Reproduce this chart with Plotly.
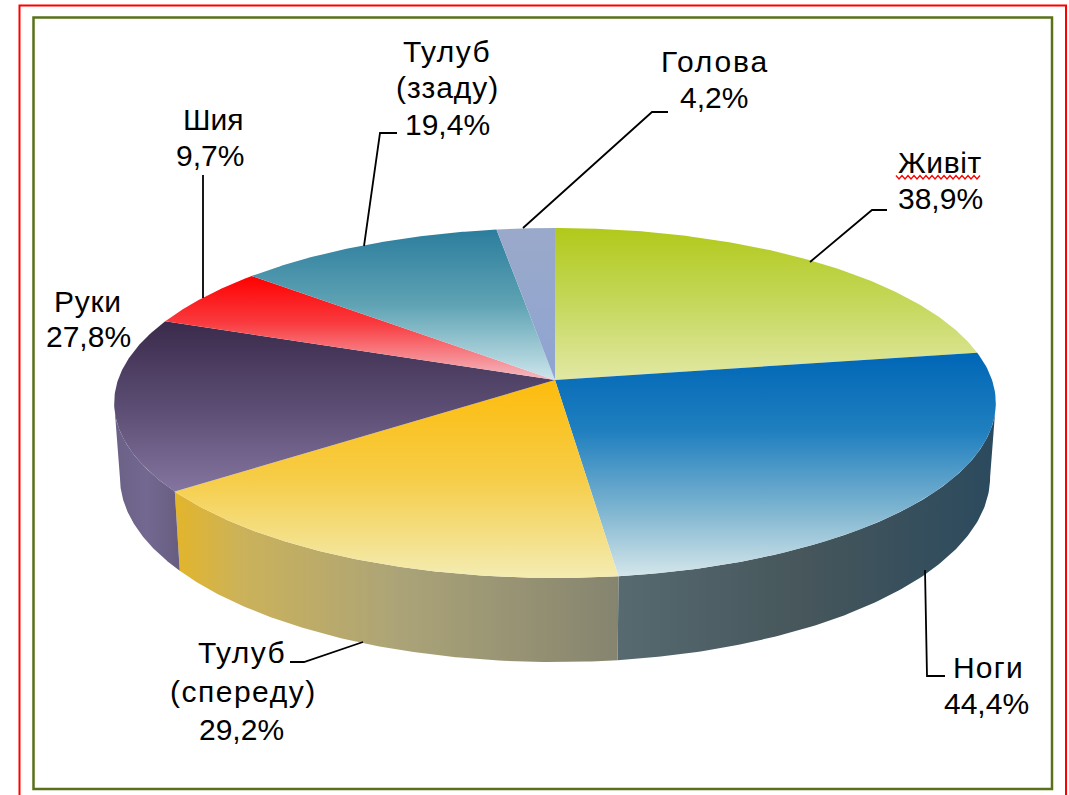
import numpy as np
import plotly.graph_objects as go

# Data, clockwise from 12 o'clock
names = [["Живіт"], ["Ноги"], ["Тулуб", "(спереду)"], ["Руки"], ["Шия"], ["Тулуб", "(ззаду)"], ["Голова"]]
values = [38.9, 44.4, 29.2, 27.8, 9.7, 19.4, 4.2]

top_colors = [
    [[0, "#b1c91a"], [0.5, "#c5d85c"], [1, "#e2e8a4"]],
    [[0, "#0066b6"], [0.35, "#1f7fbf"], [0.7, "#7db4d0"], [1, "#d4e6ea"]],
    [[0, "#fdbc0c"], [0.5, "#f6cd48"], [1, "#f3ecb2"]],
    [[0, "#3a2b4c"], [0.5, "#5b4c73"], [1, "#83759f"]],
    [[0, "#ff0000"], [0.45, "#f93a3e"], [1, "#f4bcc4"]],
    [[0, "#2b7d9d"], [0.5, "#5fa3b4"], [1, "#cde6ec"]],
    [[0, "#9aa9ca"], [1, "#8fa4d2"]],
]
wall_colors = {
    1: [[0, "#566a70"], [0.5, "#46565b"], [1, "#2b4a5e"]],
    2: [[0, "#e3b52a"], [0.15, "#cbb25a"], [0.5, "#aca478"], [1, "#85846f"]],
    3: [[0, "#6b6186"], [0.5, "#736890"], [1, "#675d80"]],
}

# label line centres: (x, y) per text line, the value last
label_pos = [
    [(940, 162), (940, 198)],
    [(988, 667), (986, 703)],
    [(242, 652), (243, 691), (241, 729)],
    [(88, 301), (88, 336)],
    [(213, 119), (210, 155)],
    [(447, 51), (447, 87), (447, 124)],
    [(715, 61), (714, 97)],
]
# extra letter spacing of each name line, px
name_spacing = [[0.6], [1.2], [1.4, 1.5], [0.7], [0], [1.4, 1.0], [1.8]]
leaders = [
    [(810, 262), (872, 210), (887, 210)],
    [(925, 570), (927, 676), (945, 676)],
    [(363, 642), (304, 662), (290, 662)],
    None,
    [(203, 298), (203, 175)],
    [(364, 246), (380, 133), (397, 133)],
    [(523, 228), (652, 112), (668, 112)],
]

# projection of the disc
CX, CY, A, B, K, H, SHRINK = 555, 380, 437, 172, 0.1314, 73, 0.987


def project(deg, drop=0.0):
    t = np.radians(deg)
    u, v = np.sin(t), np.cos(t)
    d = 1 + K * v
    s = SHRINK if drop else 1.0
    return CX + s * A * u / d, CY - B * v / d + drop / d


def flipped(stops):
    return [[1 - p, c] for p, c in reversed(stops)]


total = sum(values)
edges = np.concatenate([[0], np.cumsum(values) / total * 360])
# angles of the disc's widest points, where the side wall turns out of sight
ext_right = np.degrees(np.arccos(-K))
ext_left = 360 - ext_right

fig = go.Figure()
no_line = dict(width=0)

# side walls
for i, stops in wall_colors.items():
    th = np.linspace(max(edges[i], ext_right), min(edges[i + 1], ext_left), 120)
    x1, y1 = project(th)
    x2, y2 = project(th[::-1], H)
    fig.add_trace(go.Scatter(
        x=np.r_[x1, x2], y=np.r_[y1, y2], mode="lines", line=no_line,
        fill="toself", fillgradient=dict(type="horizontal", colorscale=stops),
        hoverinfo="skip", showlegend=False))

# top slices
for i, stops in enumerate(top_colors):
    th = np.linspace(edges[i], edges[i + 1], 120)
    x1, y1 = project(th)
    fig.add_trace(go.Scatter(
        x=np.r_[CX, x1, CX], y=np.r_[CY, y1, CY], mode="lines", line=no_line,
        fill="toself", fillgradient=dict(type="vertical", colorscale=flipped(stops)),
        name=" ".join(names[i]), hoverinfo="name", showlegend=False))

# leader lines
for pts in leaders:
    if pts:
        fig.add_trace(go.Scatter(
            x=[p[0] for p in pts], y=[p[1] for p in pts], mode="lines",
            line=dict(color="#000000", width=1.8), hoverinfo="skip", showlegend=False))

# proofing squiggle under Живіт
sq_x = np.arange(896, 983, 3.0)
sq_y = [175.5 + 3.5 * (j % 2) for j in range(len(sq_x))]
fig.add_trace(go.Scatter(x=sq_x, y=sq_y, mode="lines", line=dict(color="#ff0000", width=1.3),
                         hoverinfo="skip", showlegend=False))

# labels
for nm, sp, val, pos in zip(names, name_spacing, values, label_pos):
    lines = [f'<span style="letter-spacing:{s}px">{t}</span>' for t, s in zip(nm, sp)]
    lines.append(f"{val:.1f}".replace(".", ",") + "%")
    for text, (x, y) in zip(lines, pos):
        fig.add_annotation(x=x, y=y, text=text, showarrow=False, xanchor="center", yanchor="middle",
                           font=dict(family="Liberation Sans, Arial, sans-serif", size=30, color="#000000"))

# frames
fig.add_shape(type="rect", x0=19.5, y0=5.5, x1=1066, y1=820, line=dict(color="#ff0000", width=2), layer="below")
fig.add_shape(type="rect", x0=33.5, y0=17.5, x1=1052, y1=789, line=dict(color="#5a7119", width=2.5), layer="below")

fig.update_layout(
    width=1069, height=795, autosize=False,
    margin=dict(l=0, r=0, t=0, b=0),
    paper_bgcolor="#ffffff", plot_bgcolor="#ffffff",
    xaxis=dict(range=[0, 1069], visible=False, fixedrange=True),
    yaxis=dict(range=[795, 0], visible=False, fixedrange=True),
)
fig.write_html("out.html", config=dict(displayModeBar=False),
               post_script="document.body.style.margin='0';document.body.style.overflow='hidden';")
